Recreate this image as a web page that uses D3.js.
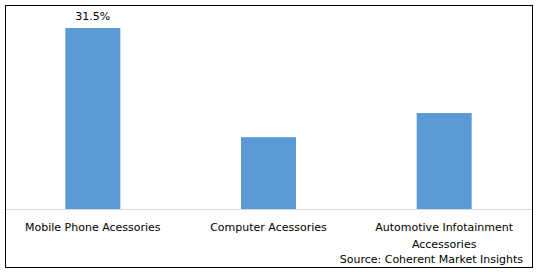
<!DOCTYPE html>
<html>
<head>
<meta charset="utf-8">
<script src="https://cdn.jsdelivr.net/npm/d3@7"></script>
<style>
  body { margin: 0; background: #fff; }
  text { font-family: "DejaVu Sans", Verdana, sans-serif; fill: #000; }
</style>
</head>
<body>
<div id="chart"></div>
<script>
// chart data
const categories = ["Mobile Phone Acessories", "Computer Acessories", "Automotive Infotainment Accessories"];
const labelLines = [["Mobile Phone Acessories"], ["Computer Acessories"], ["Automotive Infotainment", "Accessories"]];
const values = [31.5, 12.5, 16.7];
const valueLabels = ["31.5%", "", ""];
const sourceText = "Source: Coherent Market Insights";

const W = 538, H = 272;
const box = {left: 5, top: 5, right: 532, bottom: 267};
const baseY = 209, topY = 28;

const svg = d3.select("#chart")
    .append("svg")
    .attr("width", W)
    .attr("height", H);

// outer border
svg.append("rect")
    .attr("x", box.left + 0.5)
    .attr("y", box.top + 0.5)
    .attr("width", box.right - box.left)
    .attr("height", box.bottom - box.top)
    .attr("fill", "#fff")
    .attr("stroke", "#000")
    .attr("stroke-width", 1);

// scales
const x = d3.scaleBand()
    .domain(categories)
    .range([box.left, box.right])
    .paddingInner(0.687)
    .paddingOuter(0.3435);

const y = d3.scaleLinear()
    .domain([0, values[0]])
    .range([baseY, topY]);

// bars
svg.selectAll(".bar")
    .data(categories)
    .enter().append("rect")
    .attr("class", "bar")
    .attr("x", d => x(d))
    .attr("width", x.bandwidth())
    .attr("y", (d, i) => y(values[i]))
    .attr("height", (d, i) => y(0) - y(values[i]))
    .attr("fill", "#5b9bd5");

// axis line
svg.append("line")
    .attr("x1", box.left + 1)
    .attr("x2", box.right)
    .attr("y1", y(0) + 0.5)
    .attr("y2", y(0) + 0.5)
    .attr("stroke", "#d9d9d9")
    .attr("stroke-width", 1);

// value labels
svg.selectAll(".vlabel")
    .data(categories)
    .enter().append("text")
    .attr("class", "vlabel")
    .attr("x", d => x(d) + x.bandwidth() / 2)
    .attr("y", (d, i) => y(values[i]) - 8)
    .attr("text-anchor", "middle")
    .attr("font-size", "11px")
    .text((d, i) => valueLabels[i]);

// category labels
categories.forEach((c, i) => {
    const t = svg.append("text")
        .attr("text-anchor", "middle")
        .attr("font-size", "11px");
    labelLines[i].forEach((line, j) => {
        t.append("tspan")
            .attr("x", x(c) + x.bandwidth() / 2)
            .attr("y", 231 + j * 16.5)
            .text(line);
    });
});

// source
svg.append("text")
    .attr("x", 523)
    .attr("y", 263)
    .attr("text-anchor", "end")
    .attr("font-size", "11px")
    .text(sourceText);
</script>
</body>
</html>
